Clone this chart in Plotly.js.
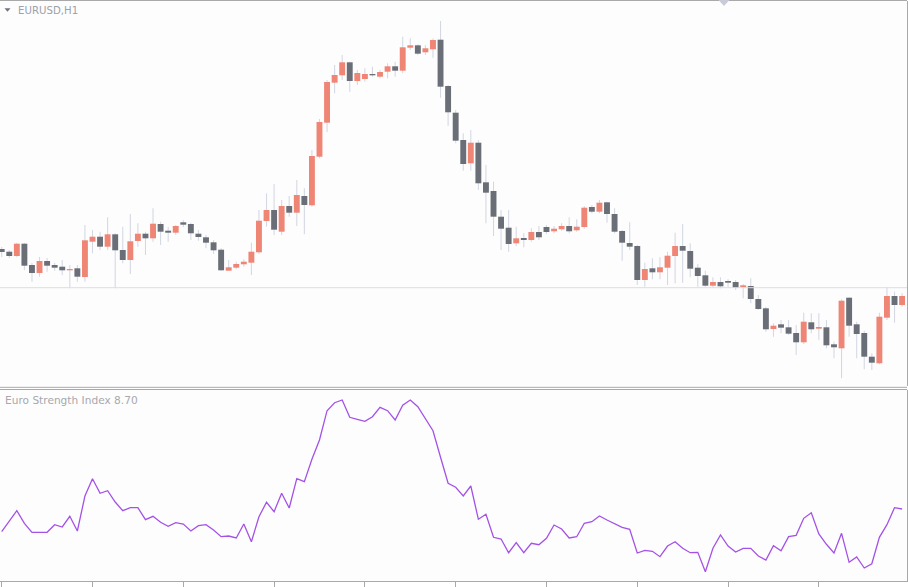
<!DOCTYPE html>
<html>
<head>
<meta charset="utf-8">
<script src="https://cdn.plot.ly/plotly-3.0.1.min.js"></script>
<style>html,body{margin:0;padding:0;background:#fdfdfe;}#chart{width:908px;height:587px;}</style>
</head>
<body>
<div id="chart"></div>
<script>
// EURUSD H1 candles (price levels in points)
const candleOpen = [141,138.3,134,146.3,125,117,129,125,123.3,119.7,
121.7,113,148.3,153.3,143.3,155.7,140,130,149,156.3,
151.7,166,159.3,157.3,167.7,166,156.3,152.7,147.7,140.3,
119.3,122.3,125.7,127.3,137.7,169,180,158.3,184,177.3,
194,184.7,233.3,267.3,307.3,314.7,327.7,309,311,316,
313.3,318.3,323.7,319.3,342.3,344.7,337.7,340.7,350.3,304,
277.3,250,226.7,247.3,207.7,199,173.3,162.3,146.7,152,
150,158,163,158.7,160.7,164,159.7,163,183,178.3,
187.7,176,159,147,144,110,121.7,117.7,122.3,134,
144,139,122.3,114.7,104.3,108,109,108,102.7,104,
91,81.7,61,65.7,62.7,57,47.7,67.7,61.3,62.7,
45.7,41.7,92.3,65.7,57,33.3,26.7,72.3,94,85];
const candleHigh = [143,140,147.3,147,127,133,132,127.3,130,125,
125,165,160,158.3,172.7,156.7,163.3,176,166.7,158.3,
181.7,168.3,163.3,165,170,167.3,160,155,150,141.7,
130,128.3,130.7,147.3,180,196.7,206,190,194,210,
201.7,240,271,310,325,335,328.3,320,321.7,323.3,
320,326.7,328.3,353.3,351.7,345.7,345,351.7,369,305,
280,256.7,260,250,225,208.3,180,180,163.3,156.7,
161.7,164,165,164,166.7,172.7,170.7,184,185,190,
188.3,181.7,160,167.7,145,127.3,131.7,132.7,138.3,157.3,
166,146.7,126,119.3,112.7,112.7,110.7,110,106,111.7,
95,83.3,66.7,70,70,65,77.3,76.7,76.7,70,
48.3,90.7,92.7,68.3,59.3,36.7,77.3,102.7,98.3,96.7];
const candleLow = [133,132,132.7,120,108.3,113.3,118.3,119.3,115,101.7,
108.3,108.3,136.7,140,140,101.7,126.7,116,143.3,135,
148.3,145,148.3,155,162.7,150,149.3,141.7,136,119.3,
119.3,120.7,123.3,115,136,163.3,155,155,173.3,164,
155.7,183.3,231.7,257.7,296.7,310,298.3,305,308.3,313.3,
311.7,311.7,313.3,316.7,340,335,335,332.3,292.3,264.3,
246.7,219.3,219.3,200,166.7,154,140,138.3,144,142.7,
148.3,150,156,156.7,159.3,156.7,158.3,161.3,176.7,176.7,
167.3,156.7,129.3,140,105,103.3,110.7,110.7,105,106.7,
107.3,112.7,103.3,103.3,102.7,101.7,102.7,100,91.7,86.7,
80,58.3,53.3,56.7,55,35,46,56.7,50,41.7,
31.7,11.7,53.3,31.7,20.7,20,25.7,70,67.3,83.3];
const candleClose = [138,134,146.3,124.3,117,129,124.3,122.3,119.7,121,
113.3,149.7,153.3,143.3,155.7,139.7,130,148.7,156.3,151.7,
166.3,158.3,157.3,164,165.3,156.7,153,147.3,139.7,119.7,
122.7,126,128.3,138.3,169.3,180,160.3,184,177.3,195,
185,234,268,308,315,327.7,309,317,316,314.7,
318,323.7,319.3,342.7,344.7,336.3,341.7,350,303.3,277.7,
249.3,226,247.3,206.7,197.3,173.3,161.3,146,151.7,150,
158,152.7,158,161.3,164,158.7,163.3,182.3,178.3,187.3,
176,158.3,147.3,143.3,110,121,117.7,122.7,134.3,144,
139.3,121.3,114,104.3,108,103.7,107.3,102.3,104.7,91,
81,60.7,64.3,62.3,56.3,47.7,68.3,60.7,63,44.7,
42.7,89.3,64.3,56,33.3,27.3,73.3,94,85,94];
// Euro Strength Index values
const strengthIndex = [58.3,69,79.3,66.7,57.7,57.7,57.7,65.3,63,73.7,
59,94,111.3,96.7,99.3,88,79.3,82.3,82.3,70.3,
73.7,67.7,63.7,67.3,66,59,64.3,65.3,60,53.3,
54,52,66,48.3,73.3,87.7,78.3,96.7,82,111.3,
108.3,130.7,150,179.3,187.3,190,172.7,170.7,168.7,173.3,
182.7,179.3,170,184.7,190,183.3,171.3,159.3,132.7,106.7,
102.7,94,104,70.7,75.7,52.7,51,37.3,47.3,37.3,
46.7,45.3,51.7,65,61,52,53.3,66.7,68.3,74,
70,66.7,62.7,60.7,37,39.7,38.7,33.3,44,48.3,
41.7,37.3,37.7,18.3,41.7,55,44,38,41.7,41.7,
34,30,44.3,39.3,53.3,54.7,71.7,77.3,56,45.7,
37,56.7,27.7,33,22,26.3,52.7,65.3,82.3,81];
const bidLevel = 102.3;
const timeTicks = [0,12,24,36,48,60,72,84,96,108];

const N = candleOpen.length;
const idx = candleOpen.map((_, i) => i);
const upColor = '#ef8575', downColor = '#6a6f77', wickColor = '#d4d8e3';
const bodyBase = idx.map(i => Math.min(candleOpen[i], candleClose[i]));
const bodyLen = idx.map(i => Math.max(Math.abs(candleClose[i] - candleOpen[i]), 1.3));
const bodyCol = idx.map(i => candleClose[i] >= candleOpen[i] ? upColor : downColor);

const H = 587, W = 908;
const py = p => 1 - p / H, px = p => p / W;

const traces = [
  {type:'bar', x: idx, base: candleLow, y: idx.map(i => candleHigh[i] - candleLow[i]),
   width: 0.14, marker:{color: wickColor, line:{width:0}}, xaxis:'x', yaxis:'y', hoverinfo:'skip'},
  {type:'bar', x: idx, base: bodyBase, y: bodyLen,
   width: 0.78, marker:{color: bodyCol, line:{width:0}}, xaxis:'x', yaxis:'y', hoverinfo:'skip'},
  {type:'scatter', mode:'lines', x: idx, y: strengthIndex,
   line:{color:'#a452e6', width:1.3}, xaxis:'x2', yaxis:'y2', hoverinfo:'skip'}
];

const xr = [-0.225, 119.65];
const layout = {
  width: W, height: H,
  margin:{l:0, r:0, t:0, b:0, pad:0},
  paper_bgcolor:'#ffffff', plot_bgcolor:'#fdfdfe',
  showlegend:false, barmode:'overlay', hovermode:false,
  xaxis:{domain:[0, 907/W], range: xr, anchor:'y', showgrid:false, zeroline:false,
         showticklabels:false, ticks:'', showline:false, fixedrange:true},
  yaxis:{domain:[py(386), py(1)], range:[4, 389], side:'right', anchor:'x',
         showgrid:false, zeroline:false, showticklabels:false,
         showline:true, linecolor:'#a9a9a9', linewidth:1,
         ticks:'outside', ticklen:3, tickcolor:'#a9a9a9', tick0:20, dtick:46.6},
  xaxis2:{domain:[0, 907/W], range: xr, anchor:'y2', showgrid:false, zeroline:false,
          showticklabels:false, showline:true, linecolor:'#a9a9a9', linewidth:1,
          ticks:'outside', ticklen:5, tickcolor:'#a9a9a9', tickvals: timeTicks},
  yaxis2:{domain:[py(581), py(389.5)], range:[9, 200.5], side:'right', anchor:'x2',
          showgrid:false, zeroline:false, showticklabels:false,
          showline:true, linecolor:'#a9a9a9', linewidth:1, ticks:''},
  shapes:[
    {type:'line', xref:'x', yref:'y', x0: xr[0], x1: xr[1], y0: bidLevel, y1: bidLevel,
     line:{color:'#dcdde5', width:1}},
    {type:'line', xref:'paper', yref:'paper', x0:0, x1:907/W, y0:py(0.5), y1:py(0.5),
     line:{color:'#a9a9a9', width:1}},
    {type:'line', xref:'paper', yref:'paper', x0:0, x1:907/W, y0:py(387.3), y1:py(387.3),
     line:{color:'#a9a9a9', width:1}},
    {type:'line', xref:'paper', yref:'paper', x0:0, x1:907/W, y0:py(389.5), y1:py(389.5),
     line:{color:'#a9a9a9', width:1}},
    {type:'path', xref:'paper', yref:'paper',
     path:`M ${px(4.5)} ${py(8.3)} L ${px(10.5)} ${py(8.3)} L ${px(7.5)} ${py(11.8)} Z`,
     fillcolor:'#6f737b', line:{width:0}},
    {type:'path', xref:'paper', yref:'paper',
     path:`M ${px(718.5)} ${py(0)} L ${px(729.5)} ${py(0)} L ${px(724)} ${py(6)} Z`,
     fillcolor:'#c9ccd8', line:{width:0}}
  ],
  annotations:[
    {text:'EURUSD,H1', xref:'paper', yref:'paper', x:px(15.5), y:py(10.5),
     xanchor:'left', yanchor:'middle', showarrow:false,
     font:{family:'DejaVu Sans', size:10.2, color:'#9da1a9'}},
    {text:'Euro Strength Index 8.70', xref:'paper', yref:'paper', x:px(3), y:py(400),
     xanchor:'left', yanchor:'middle', showarrow:false,
     font:{family:'DejaVu Sans', size:10.6, color:'#a8a8ac'}}
  ]
};

Plotly.newPlot('chart', traces, layout, {displayModeBar:false, staticPlot:true});
</script>
</body>
</html>
